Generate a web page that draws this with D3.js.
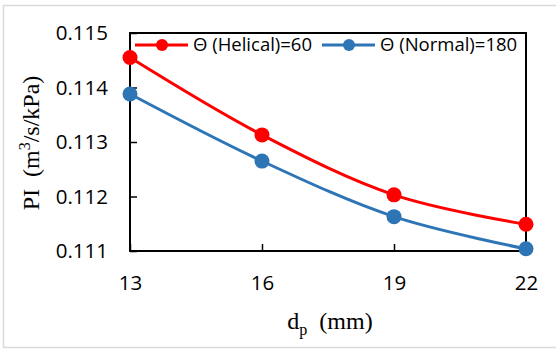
<!DOCTYPE html>
<html>
<head>
<meta charset="utf-8">
<script src="https://cdn.jsdelivr.net/npm/d3@7"></script>
<style>
  html, body { margin: 0; padding: 0; background: #fff; }
  svg { display: block; }
</style>
</head>
<body>
<svg id="chart" width="556" height="349"></svg>
<script>
// Pipe diameter (mm) on the x axis
const diameters = [13, 16, 19, 22];
// Productivity index (m3/s/kPa) for each flow configuration
const helical60 = [0.11455, 0.11313, 0.11203, 0.11149];
const normal180 = [0.11388, 0.11265, 0.11163, 0.11104];
const seriesNames = ["\u0398 (Helical)=60", "\u0398 (Normal)=180"];
const xTicks = [13, 16, 19, 22];
const yTicks = [0.111, 0.112, 0.113, 0.114, 0.115];

const colors = ["#ff0000", "#2e75b6"];
const series = [helical60, normal180].map((vals, i) => ({
  name: seriesNames[i],
  color: colors[i],
  points: diameters.map((d, j) => ({ x: d, y: vals[j] }))
}));

const svg = d3.select("#chart");
const W = 556, H = 349;
const plot = { left: 130, right: 526, top: 33, bottom: 251 };

// outer chart frame
svg.append("rect")
  .attr("x", 3.5).attr("y", 5.5)
  .attr("width", W + 10).attr("height", 342)
  .attr("fill", "#fff").attr("stroke", "#d9d9d9").attr("stroke-width", 1.5);

const x = d3.scaleLinear().domain([13, 22]).range([plot.left, plot.right]);
const y = d3.scaleLinear().domain([0.111, 0.115]).range([plot.bottom, plot.top]);

const tickFont = "'Open Sans', 'Liberation Sans', sans-serif";

// y axis: ticks point inward, labels on the left
const yAxis = d3.axisLeft(y).tickValues(yTicks).tickFormat(d3.format(".3f"))
  .tickSizeInner(-7).tickSizeOuter(0).tickPadding(22);
const gy = svg.append("g").attr("transform", `translate(${plot.left},0)`).call(yAxis);
gy.select(".domain").remove();
gy.selectAll("line").attr("stroke", "#000").attr("stroke-width", 1.5);
gy.selectAll("text").attr("font-family", tickFont).attr("font-size", 20.5).attr("fill", "#000");

// x axis: ticks point upward into the plot
const xAxis = d3.axisBottom(x).tickValues(xTicks).tickFormat(d3.format("d"))
  .tickSizeInner(-7).tickSizeOuter(0).tickPadding(24);
const gx = svg.append("g").attr("transform", `translate(0,${plot.bottom})`).call(xAxis);
gx.select(".domain").remove();
gx.selectAll("line").attr("stroke", "#000").attr("stroke-width", 1.5);
gx.selectAll("text").attr("font-family", tickFont).attr("font-size", 20.5).attr("fill", "#000");

// plot border
svg.append("rect")
  .attr("x", plot.left).attr("y", plot.top)
  .attr("width", plot.right - plot.left).attr("height", plot.bottom - plot.top)
  .attr("fill", "none").attr("stroke", "#000").attr("stroke-width", 2);

// smoothed series lines with circular markers
const line = d3.line().x(d => x(d.x)).y(d => y(d.y)).curve(d3.curveCardinal.tension(0));
series.forEach(s => {
  svg.append("path").datum(s.points)
    .attr("d", line).attr("fill", "none")
    .attr("stroke", s.color).attr("stroke-width", 3);
  svg.append("g").selectAll("circle").data(s.points).join("circle")
    .attr("cx", d => x(d.x)).attr("cy", d => y(d.y)).attr("r", 7.5)
    .attr("fill", s.color);
});

// legend inside the top of the plot
const legendX = [135, 322];
const legendY = 45;
series.forEach((s, i) => {
  const g = svg.append("g").attr("transform", `translate(${legendX[i]},${legendY})`);
  g.append("line").attr("x1", 0).attr("x2", 53).attr("y1", 0).attr("y2", 0)
    .attr("stroke", s.color).attr("stroke-width", 3);
  g.append("circle").attr("cx", 27).attr("cy", 0).attr("r", 6).attr("fill", s.color);
  g.append("text").attr("x", 58).attr("y", 0).attr("dy", "0.35em")
    .attr("font-family", tickFont).attr("font-size", 18.5).attr("fill", "#000")
    .text(s.name);
});

// axis titles
const serif = "'Liberation Serif', 'Times New Roman', serif";
const xt = svg.append("text").attr("x", 330).attr("y", 329)
  .attr("text-anchor", "middle").attr("font-family", serif).attr("font-size", 24).attr("fill", "#000");
xt.append("tspan").text("d");
xt.append("tspan").attr("font-size", 16).attr("dy", 6).text("p");
xt.append("tspan").attr("dy", -6).text("\u00a0\u00a0(mm)");

const yt = svg.append("text").attr("transform", "translate(39,143) rotate(-90)")
  .attr("text-anchor", "middle").attr("font-family", serif).attr("font-size", 24).attr("fill", "#000");
yt.append("tspan").text("PI\u00a0\u00a0(m");
yt.append("tspan").attr("font-size", 16).attr("dy", -9).text("3");
yt.append("tspan").attr("dy", 9).text("/s/kPa)");
</script>
</body>
</html>
